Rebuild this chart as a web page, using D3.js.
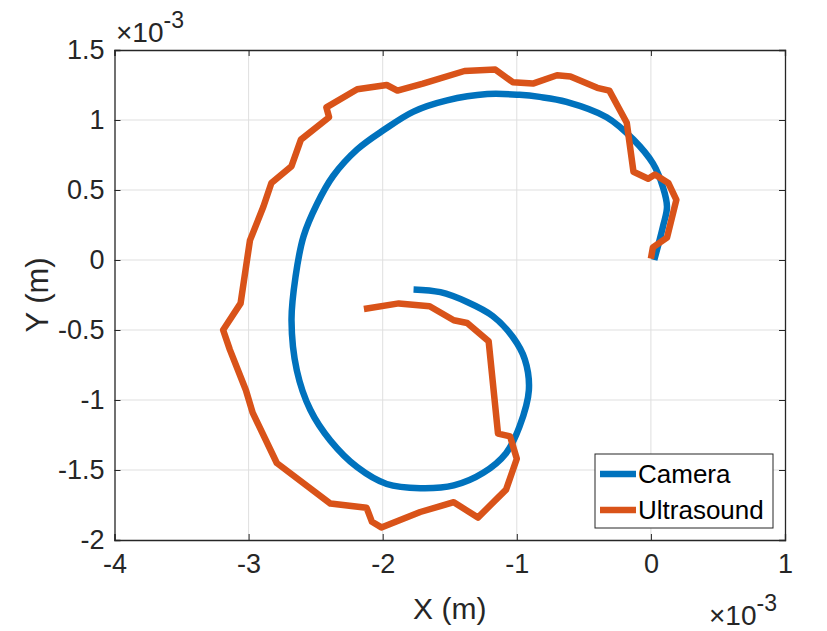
<!DOCTYPE html>
<html>
<head>
<meta charset="utf-8">
<script src="https://cdn.jsdelivr.net/npm/d3@7"></script>
<style>
  body { margin: 0; background: #fff; }
  svg { display: block; font-family: "Liberation Sans", Arial, sans-serif; }
</style>
</head>
<body>
<svg id="chart" width="827" height="631"></svg>
<script>
// values in units of 1e-3 m
const cameraX = [0.025, 0.09, 0.12, 0.09, 0.015, -0.13, -0.33, -0.63, -0.83, -0.98, -1.22, -1.52, -1.77, -1.99, -2.19, -2.37, -2.49, -2.59, -2.65, -2.68, -2.64, -2.54, -2.39, -2.19, -1.97, -1.72, -1.47, -1.25, -1.08, -0.98, -0.91, -0.94, -1.03, -1.18, -1.37, -1.57, -1.77];
const cameraY = [0.00, 0.24, 0.38, 0.52, 0.69, 0.86, 1.02, 1.13, 1.165, 1.18, 1.185, 1.14, 1.06, 0.93, 0.79, 0.60, 0.40, 0.17, -0.12, -0.43, -0.79, -1.07, -1.29, -1.48, -1.60, -1.63, -1.61, -1.52, -1.38, -1.19, -0.93, -0.71, -0.55, -0.40, -0.30, -0.23, -0.21];

const ultraX = [0.00, 0.015, 0.12, 0.19, 0.13, 0.03, -0.02, -0.13, -0.18, -0.31, -0.40, -0.60, -0.70, -0.88, -1.03, -1.16, -1.39, -1.70, -1.89, -1.97, -2.19, -2.42, -2.40, -2.61, -2.68, -2.83, -2.89, -2.99, -3.06, -3.19, -3.14, -3.02, -2.97, -2.79, -2.39, -2.12, -2.08, -2.01, -1.72, -1.47, -1.29, -1.08, -1.00, -1.05, -1.14, -1.21, -1.37, -1.47, -1.65, -1.88, -2.14];
const ultraY = [0.01, 0.09, 0.16, 0.43, 0.55, 0.61, 0.58, 0.63, 0.98, 1.21, 1.23, 1.31, 1.32, 1.26, 1.27, 1.36, 1.35, 1.26, 1.21, 1.25, 1.22, 1.09, 1.02, 0.86, 0.67, 0.55, 0.38, 0.14, -0.31, -0.50, -0.64, -0.93, -1.09, -1.45, -1.74, -1.77, -1.87, -1.91, -1.80, -1.73, -1.84, -1.64, -1.42, -1.26, -1.24, -0.58, -0.45, -0.43, -0.33, -0.31, -0.35];

const xTicks = [-4, -3, -2, -1, 0, 1];
const yTicks = [-2, -1.5, -1, -0.5, 0, 0.5, 1, 1.5];
const seriesNames = ['Camera', 'Ultrasound'];
const seriesColors = ['#0072BD', '#D95319'];

const svg = d3.select('#chart');
const plot = { left: 114.5, right: 785, top: 50, bottom: 540 };
const ink = '#262626';

const x = d3.scaleLinear().domain([-4, 1]).range([plot.left, plot.right]);
const y = d3.scaleLinear().domain([-2, 1.5]).range([plot.bottom, plot.top]);

// grid
const grid = svg.append('g').attr('stroke', '#dfdfdf').attr('stroke-width', 1);
grid.selectAll('.gx').data(xTicks.slice(1, -1)).join('line').attr('class', 'gx')
    .attr('x1', d => x(d)).attr('x2', d => x(d)).attr('y1', plot.top).attr('y2', plot.bottom);
grid.selectAll('.gy').data(yTicks.slice(1, -1)).join('line').attr('class', 'gy')
    .attr('y1', d => y(d)).attr('y2', d => y(d)).attr('x1', plot.left).attr('x2', plot.right);

// lines: camera track is smooth, ultrasound is jagged
const smooth = d3.line().x(d => x(d[0])).y(d => y(d[1])).curve(d3.curveCatmullRom.alpha(0.5));
const straight = d3.line().x(d => x(d[0])).y(d => y(d[1]));
const series = [
    { pts: d3.zip(cameraX, cameraY), gen: smooth },
    { pts: d3.zip(ultraX, ultraY), gen: straight }
];
svg.append('g').selectAll('path').data(series).join('path')
    .attr('d', d => d.gen(d.pts))
    .attr('fill', 'none')
    .attr('stroke', (d, i) => seriesColors[i])
    .attr('stroke-width', 6.5)
    .attr('stroke-linejoin', 'round');

// axes, ticks inward on all sides
const tl = 6;
svg.append('g').attr('transform', `translate(0,${plot.bottom})`)
    .call(d3.axisBottom(x).tickValues(xTicks).tickSize(-tl).tickPadding(14).tickFormat(d3.format('')));
svg.append('g').attr('transform', `translate(0,${plot.top})`)
    .call(d3.axisTop(x).tickValues(xTicks).tickSize(-tl).tickFormat(''));
svg.append('g').attr('transform', `translate(${plot.left},0)`)
    .call(d3.axisLeft(y).tickValues(yTicks).tickSize(-tl).tickPadding(10).tickFormat(d3.format('')));
svg.append('g').attr('transform', `translate(${plot.right},0)`)
    .call(d3.axisRight(y).tickValues(yTicks).tickSize(-tl).tickFormat(''));

svg.selectAll('.domain').attr('stroke', ink).attr('stroke-width', 1.3);
svg.selectAll('.tick line').attr('stroke', ink);
svg.selectAll('.tick text').attr('fill', ink).style('font-size', '27px')
    .text(function () { return this.textContent.replace('−', '-'); });

// axis labels
svg.append('text').attr('x', (plot.left + plot.right) / 2).attr('y', 619)
    .attr('text-anchor', 'middle').attr('fill', ink).style('font-size', '30px').text('X (m)');
svg.append('text').attr('transform', `translate(48,${(plot.top + plot.bottom) / 2}) rotate(-90)`)
    .attr('text-anchor', 'middle').attr('fill', ink).style('font-size', '31px').text('Y (m)');

// exponent labels
const expo = (tx, ty) => {
    const t = svg.append('text').attr('x', tx).attr('y', ty).attr('fill', ink).style('font-size', '28px');
    t.append('tspan').text('×10');
    t.append('tspan').attr('dy', -14).style('font-size', '23px').text('-3');
};
expo(116, 42);
expo(709, 625);

// legend
const lg = svg.append('g');
lg.append('rect').attr('x', 595).attr('y', 454).attr('width', 178).attr('height', 74)
    .attr('fill', '#fff').attr('stroke', ink).attr('stroke-width', 1);
seriesNames.forEach((name, i) => {
    const cy = 474 + i * 36;
    lg.append('line').attr('x1', 600).attr('x2', 636).attr('y1', cy).attr('y2', cy)
        .attr('stroke', seriesColors[i]).attr('stroke-width', 6.5);
    lg.append('text').attr('x', 638).attr('y', cy + 9).attr('fill', '#000')
        .style('font-size', '26px').text(name);
});
</script>
</body>
</html>
